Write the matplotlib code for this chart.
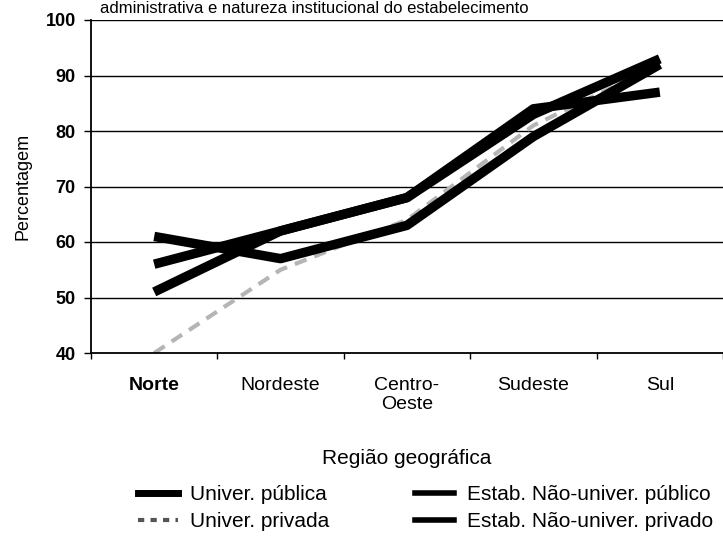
import matplotlib
matplotlib.use("Agg")
import matplotlib.pyplot as plt
from matplotlib.lines import Line2D

plt.rcParams['font.family'] = ['Liberation Sans', 'DejaVu Sans']

regions = ["Norte", "Nordeste", "Centro-\nOeste", "Sudeste", "Sul"]
univ_publica = [61, 57, 63, 79, 92]
univ_privada = [40, 55, 64, 81, 92]
nao_univ_publico = [56, 62, 68, 84, 87]
nao_univ_privado = [51, 62, 68, 83, 93]
yticks = [40, 50, 60, 70, 80, 90, 100]

fig = plt.figure(figsize=(7.23, 5.37), dpi=100)
ax = fig.add_axes([91/723, 184/537, 1 - 91/723, 333/537])

x = list(range(len(regions)))
for v in yticks[1:]:
    ax.axhline(v, color='black', lw=1.0, zorder=1)

ax.plot(x, univ_privada, color='#b5b5b5', lw=3, ls=(0, (3, 2)), zorder=2,
        label='Univer. privada')
ax.plot(x, nao_univ_publico, color='black', lw=6.8, solid_capstyle='butt', zorder=3,
        label='Estab. Não-univer. público')
ax.plot(x, nao_univ_privado, color='black', lw=6.8, solid_capstyle='butt', zorder=3,
        label='Estab. Não-univer. privado')
ax.plot(x, univ_publica, color='black', lw=6.8, solid_capstyle='butt', zorder=3,
        label='Univer. pública')

ax.set_xlim(-0.5, 4.46)
ax.set_ylim(40, 100)
ax.set_yticks(yticks)
ax.set_yticklabels([str(v) for v in yticks], fontsize=13, fontweight='bold')
ax.set_xticks(x)
ax.set_xticklabels(regions, fontsize=14)
ax.get_xticklabels()[0].set_fontweight('bold')
ax.set_xticks([i - 0.5 for i in range(6)], minor=True)
ax.tick_params(axis='x', which='major', length=0, pad=17)
ax.tick_params(axis='x', which='minor', length=4, direction='out', width=1)
ax.tick_params(axis='y', length=5, direction='out', width=1, pad=6)

for s in ['top', 'right']:
    ax.spines[s].set_visible(False)
ax.spines['left'].set_linewidth(1.3)
ax.spines['bottom'].set_linewidth(1.3)

ax.set_ylabel('Percentagem', fontsize=13, labelpad=10)
ax.set_xlabel('Região geográfica', fontsize=15, labelpad=26)

fig.text(100/723, 0.999, 'administrativa e natureza institucional do estabelecimento',
         fontsize=12, va='top', ha='left')

handles = [
    Line2D([], [], color='black', lw=5),
    Line2D([], [], color='#555555', lw=3, ls=(0, (1.5, 1.5))),
    Line2D([], [], color='black', lw=4),
    Line2D([], [], color='black', lw=4),
]
labels = ['Univer. pública', 'Univer. privada',
          'Estab. Não-univer. público', 'Estab. Não-univer. privado']
fig.legend(handles, labels, loc='upper left', bbox_to_anchor=(138/723, 1 - 485/537),
           ncol=2, frameon=False, fontsize=15, handlelength=1.9, handletextpad=0.6,
           columnspacing=4.1, labelspacing=0.4, borderaxespad=0, borderpad=0)

fig.savefig('out.png', dpi=100)
